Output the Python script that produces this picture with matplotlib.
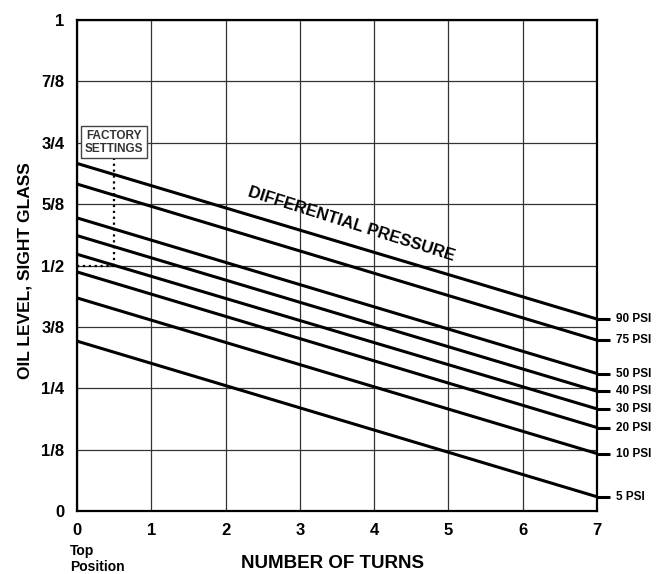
import matplotlib
matplotlib.use('Agg')
from matplotlib import pyplot as plt

plt.rcParams['font.family'] = ['Liberation Sans', 'DejaVu Sans']

# pressure curves: oil level at 0 turns and at 7 turns
psi_labels = ['90 PSI', '75 PSI', '50 PSI', '40 PSI', '30 PSI', '20 PSI', '10 PSI', '5 PSI']
level_at_0 = [0.708, 0.666, 0.597, 0.561, 0.523, 0.487, 0.434, 0.346]
level_at_7 = [0.391, 0.348, 0.280, 0.244, 0.208, 0.170, 0.117, 0.029]
turns = [0, 7]

y_ticks = [0, 1/8, 1/4, 3/8, 1/2, 5/8, 3/4, 7/8, 1]
y_tick_labels = ['0', '1/8', '1/4', '3/8', '1/2', '5/8', '3/4', '7/8', '1']
x_ticks = [0, 1, 2, 3, 4, 5, 6, 7]

factory_turns = 0.5
factory_level = 0.5

fig = plt.figure(figsize=(6.6, 5.74), dpi=100)
ax = fig.add_axes([0.1167, 0.1098, 0.7878, 0.8552])

for lab, y0, y7 in zip(psi_labels, level_at_0, level_at_7):
    ax.plot(turns, [y0, y7], color='black', lw=2.2, solid_capstyle='butt', clip_on=False)
    ax.plot([7, 7.18], [y7, y7], color='black', lw=2.2, solid_capstyle='butt', clip_on=False)
    ax.text(7.25, y7, lab, fontsize=8.5, fontweight='bold', va='center', ha='left')

# factory settings marker
ax.plot([0, factory_turns], [factory_level, factory_level], color='black', lw=1.6, ls=':')
ax.plot([factory_turns, factory_turns], [factory_level, 0.721], color='black', lw=1.6, ls=':')
ax.text(factory_turns, 0.751, 'FACTORY\nSETTINGS', fontsize=8.5, fontweight='bold',
        ha='center', va='center', color='#333333', linespacing=1.1,
        bbox=dict(boxstyle='square,pad=0.3', fc='white', ec='#444444', lw=1))

ax.text(3.7, 0.585, 'DIFFERENTIAL PRESSURE', fontsize=12, fontweight='bold',
        rotation=-17.5, ha='center', va='center', rotation_mode='anchor')

ax.set_xlim(0, 7)
ax.set_ylim(0, 1)
ax.set_xticks(x_ticks)
ax.set_yticks(y_ticks)
ax.set_yticklabels(y_tick_labels)
ax.tick_params(length=0, labelsize=12, pad=9)
for t in ax.get_xticklabels() + ax.get_yticklabels():
    t.set_fontweight('bold')
ax.grid(True, color='#333333', lw=0.9)
ax.set_axisbelow(True)
for s in ax.spines.values():
    s.set_linewidth(1.6)

ax.set_xlabel('NUMBER OF TURNS', fontsize=13.5, fontweight='bold', va='center')
ax.set_ylabel('OIL LEVEL, SIGHT GLASS', fontsize=12.5, fontweight='bold', va='center')
ax.xaxis.set_label_coords(0.492, -0.106)
ax.yaxis.set_label_coords(-0.1, 0.489)
fig.text(70 / 660, 1 - 559 / 574, 'Top\nPosition', fontsize=10, fontweight='bold',
         ha='left', va='center', linespacing=1.2)

plt.savefig('out.png', dpi=100)
